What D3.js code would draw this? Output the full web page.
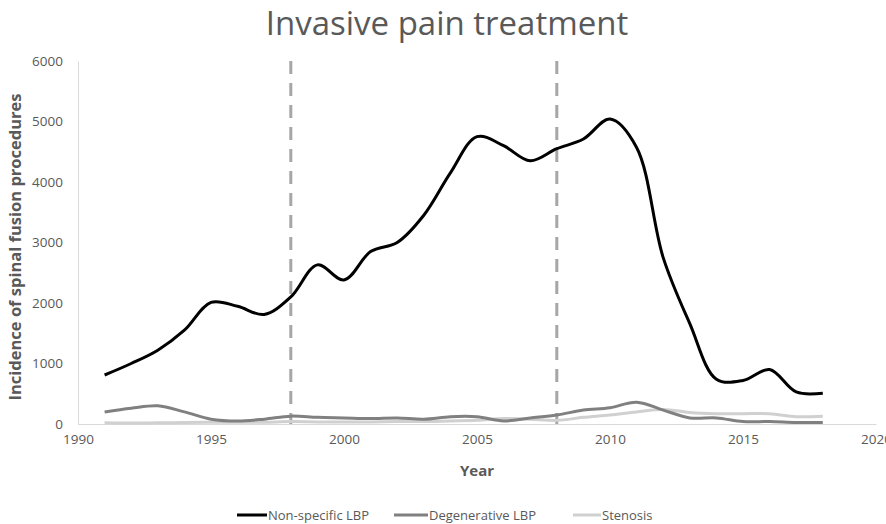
<!DOCTYPE html>
<html><head><meta charset="utf-8">
<script src="https://cdn.jsdelivr.net/npm/d3@7"></script>
<style>
html,body{margin:0;padding:0;background:#fff;}
svg text{font-family:"Open Sans","Noto Sans",sans-serif;}
</style></head>
<body><svg id="c" width="886" height="524"></svg>
<script>
const years = d3.range(1991, 2019);
const nonSpecific = [810, 1000, 1220, 1550, 2010, 1945, 1810, 2100, 2630, 2380, 2850, 3000, 3450, 4150, 4750, 4600, 4350, 4550, 4710, 5040, 4570, 2750, 1660, 740, 720, 900, 530, 510];
const degenerative = [200, 260, 300, 200, 80, 50, 80, 130, 110, 100, 90, 100, 80, 120, 120, 50, 100, 150, 230, 270, 360, 230, 100, 100, 40, 40, 25, 25];
const stenosis = [20, 15, 20, 25, 30, 30, 30, 40, 35, 35, 35, 40, 40, 50, 60, 90, 80, 60, 110, 150, 200, 240, 190, 170, 170, 170, 120, 130];
const seriesNames = ["Non-specific LBP", "Degenerative LBP", "Stenosis"];
const seriesColors = ["#000000", "#808080", "#d0d0d0"];
const xTicks = [1990, 1995, 2000, 2005, 2010, 2015, 2020];
const yTicks = [0, 1000, 2000, 3000, 4000, 5000, 6000];
const markerYears = [1998, 2008];

const svg = d3.select("#c");
const x = d3.scaleLinear().domain([1990, 2020]).range([78, 876]);
const y = d3.scaleLinear().domain([0, 6000]).range([424, 61]);
const tc = "#595959";

svg.append("text").attr("x", 447).attr("y", 35).attr("text-anchor", "middle")
  .attr("font-size", 33).attr("fill", tc).text("Invasive pain treatment");

// axes
const xa = svg.append("g").attr("transform", "translate(0,424)")
  .call(d3.axisBottom(x).tickValues(xTicks).tickFormat(d3.format("d")).tickSize(0).tickPadding(10));
xa.select(".domain").attr("stroke", "#d9d9d9").attr("stroke-width", 1);
xa.selectAll("text").attr("font-size", 13.5).attr("fill", tc);
const ya = svg.append("g").attr("transform", "translate(78,0)")
  .call(d3.axisLeft(y).tickValues(yTicks).tickFormat(d3.format("d")).tickSize(0).tickPadding(15));
ya.select(".domain").attr("stroke", "#d9d9d9").attr("stroke-width", 1);
ya.selectAll("text").attr("font-size", 13.5).attr("fill", tc);

svg.append("text").attr("transform", "translate(21,247) rotate(-90)").attr("text-anchor", "middle")
  .attr("font-size", 16.5).attr("font-weight", "bold").attr("fill", tc)
  .text("Incidence of spinal fusion procedures");
svg.append("text").attr("x", 477).attr("y", 476).attr("text-anchor", "middle")
  .attr("font-size", 15).attr("font-weight", "bold").attr("fill", tc).text("Year");

// dashed markers
svg.selectAll(".mk").data(markerYears).enter().append("line")
  .attr("x1", d => x(d)).attr("x2", d => x(d)).attr("y1", y(6000)).attr("y2", y(0))
  .attr("stroke", "#a6a6a6").attr("stroke-width", 3).attr("stroke-dasharray", "13,9");

const line = d3.line().x((d, i) => x(years[i])).y(d => y(d)).curve(d3.curveCatmullRom.alpha(0.5));
const all = [nonSpecific, degenerative, stenosis];
[2, 1, 0].forEach(k => {
  svg.append("path").datum(all[k]).attr("d", line).attr("fill", "none")
    .attr("stroke", seriesColors[k]).attr("stroke-width", 3).attr("stroke-linejoin", "round");
});

// legend
const legX = [237, 394, 573];
const legW = [30, 34, 28];
seriesNames.forEach((n, k) => {
  svg.append("line").attr("x1", legX[k]).attr("x2", legX[k] + legW[k]).attr("y1", 515).attr("y2", 515)
    .attr("stroke", seriesColors[k]).attr("stroke-width", 3);
  svg.append("text").attr("x", legX[k] + legW[k] + 1).attr("y", 519.5).attr("font-size", 13).attr("fill", tc).text(n);
});
</script></body></html>
